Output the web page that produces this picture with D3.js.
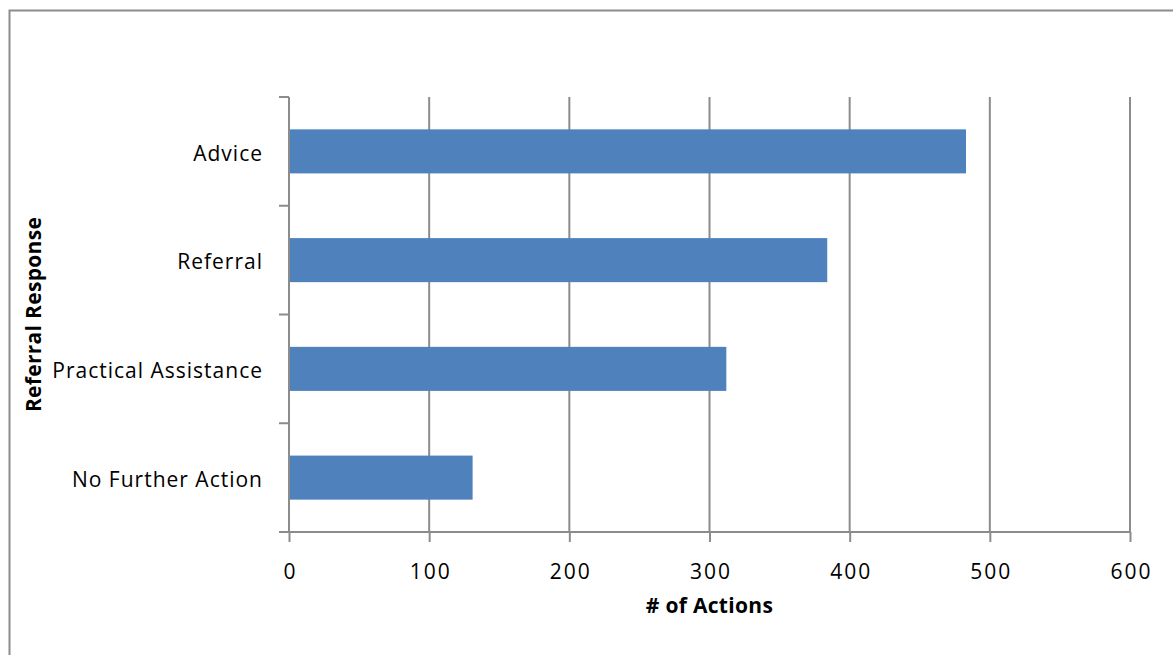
<!DOCTYPE html>
<html>
<head>
<meta charset="utf-8">
<script src="https://cdn.jsdelivr.net/npm/d3@7"></script>
<style>
  html, body { margin: 0; padding: 0; background: #fff; }
  svg { display: block; }
  text { font-family: "Open Sans", "Liberation Sans", sans-serif; fill: #000; }
</style>
</head>
<body>
<svg id="chart" width="1173" height="655"></svg>
<script>
// Referral responses and the number of actions for each
const categories = ["Advice", "Referral", "Practical Assistance", "No Further Action"];
const actions = [483, 384, 312, 131];
const xTicks = [0, 100, 200, 300, 400, 500, 600];
const xTitle = "# of Actions";
const yTitle = "Referral Response";

const svg = d3.select("#chart");
const FONT = "'Open Sans', 'Liberation Sans', sans-serif";

// Outer chart frame
svg.append("rect")
  .attr("x", 9.5).attr("y", 10.5)
  .attr("width", 1200).attr("height", 700)
  .attr("fill", "none").attr("stroke", "#8c8c8c").attr("stroke-width", 2);

const plot = { left: 289, right: 1130, top: 97, bottom: 532 };

const x = d3.scaleLinear().domain([0, 600]).range([plot.left, plot.right]);
const y = d3.scaleBand().domain(categories).range([plot.top, plot.bottom]).paddingInner(0.595).paddingOuter(0.2975);
const yTicksScale = d3.scaleBand().domain(categories).range([plot.top, plot.bottom]);

// Vertical gridlines
svg.append("g").selectAll("line")
  .data(xTicks.filter(d => d > 0))
  .join("line")
  .attr("x1", d => x(d)).attr("x2", d => x(d))
  .attr("y1", plot.top).attr("y2", plot.bottom)
  .attr("stroke", "#8c8c8c").attr("stroke-width", 2);

// Bars
svg.append("g").selectAll("rect")
  .data(categories)
  .join("rect")
  .attr("x", x(0))
  .attr("y", d => y(d))
  .attr("width", (d, i) => x(actions[i]) - x(0))
  .attr("height", y.bandwidth())
  .attr("fill", "#4f81bd");

// X axis
const xAxis = svg.append("g")
  .attr("transform", `translate(0,${plot.bottom})`)
  .call(d3.axisBottom(x).tickValues(xTicks).tickSize(10).tickPadding(22).tickSizeOuter(0));
xAxis.select(".domain").attr("stroke", "#8c8c8c").attr("stroke-width", 2)
  .attr("d", `M${plot.left - 10},0H${plot.right}`);
xAxis.selectAll(".tick line").attr("stroke", "#8c8c8c").attr("stroke-width", 2);
xAxis.selectAll(".tick text").attr("font-size", 21).attr("fill", "#000")
  .attr("dx", 1)
  .style("font-family", FONT).style("letter-spacing", "2px");

// Y axis: ticks at category boundaries
const yAxisG = svg.append("g").attr("transform", `translate(${plot.left},0)`);
yAxisG.append("line")
  .attr("x1", 0).attr("x2", 0).attr("y1", plot.top).attr("y2", plot.bottom)
  .attr("stroke", "#8c8c8c").attr("stroke-width", 2);
const bounds = categories.map(c => yTicksScale(c)).concat([plot.bottom]);
yAxisG.selectAll("line.tk")
  .data(bounds)
  .join("line").attr("class", "tk")
  .attr("x1", -10).attr("x2", 0)
  .attr("y1", d => d).attr("y2", d => d)
  .attr("stroke", "#8c8c8c").attr("stroke-width", 2);
yAxisG.selectAll("text")
  .data(categories)
  .join("text")
  .attr("x", -26)
  .attr("y", d => yTicksScale(d) + yTicksScale.bandwidth() / 2 + 2)
  .attr("dy", "0.35em")
  .attr("text-anchor", "end")
  .attr("font-size", 21)
  .style("letter-spacing", "1px")
  .text(d => d);

// Axis titles
svg.append("text")
  .attr("x", (plot.left + plot.right) / 2)
  .attr("y", 613)
  .attr("text-anchor", "middle")
  .attr("font-size", 21).attr("font-weight", "bold")
  .style("letter-spacing", "0.3px")
  .text(xTitle);

svg.append("text")
  .attr("transform", `translate(41,${(plot.top + plot.bottom) / 2}) rotate(-90)`)
  .attr("text-anchor", "middle")
  .attr("font-size", 21).attr("font-weight", "bold")
  .style("letter-spacing", "0.3px")
  .text(yTitle);
</script>
</body>
</html>
